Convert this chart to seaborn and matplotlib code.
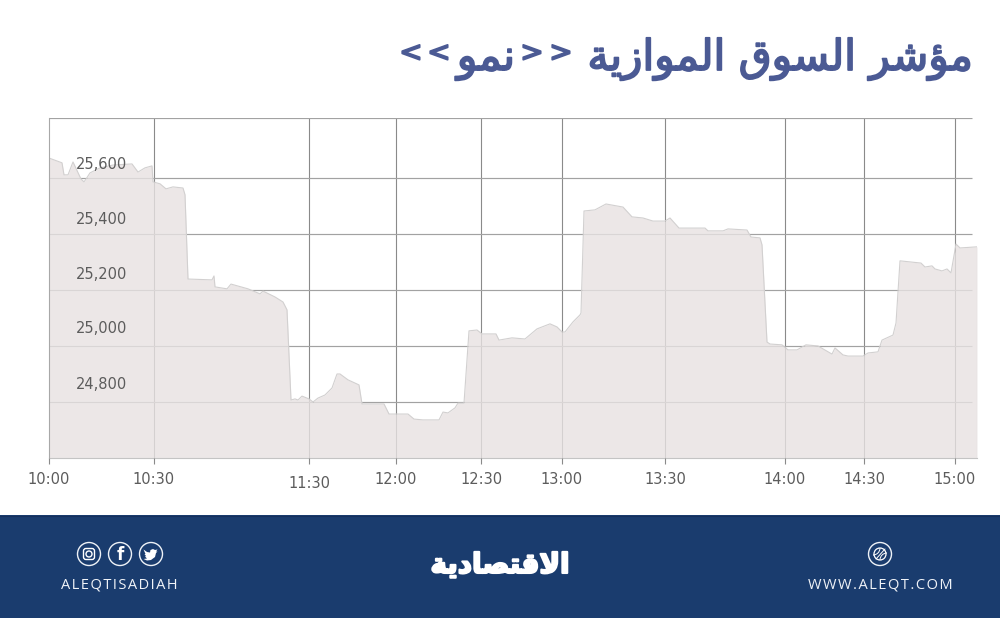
import numpy as np
import matplotlib
matplotlib.use('Agg')
import matplotlib.pyplot as plt
import matplotlib.patheffects as pe
from matplotlib.patches import Circle, FancyBboxPatch, Polygon, Arc, Rectangle
from matplotlib.transforms import ScaledTranslation
import seaborn as sns

# trade position along the session (the time axis is not linear)
trade_pos = [0, 13, 15, 19, 24, 32, 35, 37, 41, 51, 64, 83, 89, 96, 103, 104, 111, 117, 124, 134, 136,
             139, 163, 165, 166, 178, 182, 199, 211, 214, 226, 234, 238,
             242, 246, 249, 253, 260, 264, 269, 276, 283, 288, 291, 299, 310, 313, 335, 340, 359, 365,
             374, 390, 394, 399, 406, 409, 415, 420, 428, 433, 447, 450, 463, 476, 488, 501, 508, 513, 516, 524, 531,
             532, 535, 546, 557, 574, 583, 594, 604, 616, 621, 630, 656, 659, 674, 679, 698, 702, 711, 713, 718,
             721, 733, 739, 748, 757, 769, 783, 786, 794, 799, 814, 819, 829, 833, 844, 847, 851, 872, 876, 883, 886,
             893, 898, 902, 907, 911, 928]
index_vals = [25671, 25654, 25611, 25611, 25657, 25596, 25586, 25596, 25618, 25636, 25646, 25650, 25621, 25636, 25643, 25586, 25579, 25561, 25568, 25564, 25540,
              25239, 25236, 25250, 25211, 25204, 25221, 25204, 25186, 25196, 25175, 25157, 25129,
              24807, 24811, 24807, 24821, 24811, 24800, 24814, 24825, 24850, 24900, 24900, 24879, 24861, 24793, 24793, 24757, 24757, 24739,
              24736, 24736, 24764, 24761, 24779, 24796, 24796, 25054, 25057, 25043, 25043, 25021, 25029, 25025, 25061, 25079, 25068, 25050, 25050, 25086, 25111,
              25118, 25482, 25486, 25507, 25496, 25461, 25457, 25446, 25446, 25457, 25421, 25421, 25411, 25411, 25418, 25414, 25389, 25386, 25361, 25014,
              25007, 25004, 24986, 24986, 25004, 25000, 24971, 24993, 24968, 24964, 24964, 24975, 24979, 25021, 25039, 25082, 25304, 25296, 25282, 25286,
              25275, 25268, 25275, 25261, 25364, 25350, 25354]

time_ticks = [0, 105, 260, 347, 432, 513, 616, 736, 815, 906]
time_labels = ['10:00', '10:30', '11:30', '12:00', '12:30', '13:00', '13:30', '14:00', '14:30', '15:00']
value_ticks = [24800, 25000, 25200, 25400, 25600]
value_labels = ['24,800', '25,000', '25,200', '25,400', '25,600']

TITLE_COLOR = '#4b5a94'
BAND_COLOR = '#1a3c6e'
TICK_COLOR = '#5c5c5c'

sns.set_theme(style='white')
plt.rcParams['font.family'] = ['DejaVu Sans']

fig = plt.figure(figsize=(10, 6.18), dpi=100)
ax = fig.add_axes([0.049, 160 / 618, 0.928, 340 / 618])

# gridlines stay under the translucent area, tick labels above it
ax.set_axisbelow(False)
ax.vlines(time_ticks[1:], 24600, 25814, color='#8a8a8a', lw=0.8, zorder=1)
ax.hlines(value_ticks + [25814], 0, 923, color='#a2a2a2', lw=0.85, zorder=1)

ax.fill_between(trade_pos, index_vals, 24600, color='#e8e2e2', alpha=0.8, lw=0, zorder=2)
sns.lineplot(x=trade_pos, y=index_vals, color='#d2d0d0', lw=0.8, ax=ax, zorder=2.2)
ax.vlines(928, 24600, index_vals[-1], color='#d2d0d0', lw=0.8, zorder=2.2)

ax.set_xlim(0, 928)
ax.set_ylim(24600, 25814)
ax.set_xticks(time_ticks, time_labels)
ax.set_yticks(value_ticks, value_labels)
ax.tick_params(axis='x', length=4.5, width=0.8, color='#8a8a8a', labelsize=10.5, labelcolor=TICK_COLOR, pad=5.9, bottom=True)
ax.tick_params(axis='y', length=0, labelsize=10.5, labelcolor=TICK_COLOR, pad=-56)

# labels sit above their gridlines, 11:30 hangs a little lower
for lab, up in zip(ax.get_yticklabels(), [19, 19, 17, 16, 15]):
    lab.set_transform(lab.get_transform() + ScaledTranslation(0, up / 100, fig.dpi_scale_trans))
lab = ax.get_xticklabels()[2]
lab.set_transform(lab.get_transform() + ScaledTranslation(0, -4 / 100, fig.dpi_scale_trans))

for side in ['top', 'right']:
    ax.spines[side].set_visible(False)
ax.spines['left'].set_color('#a8a8a8')
ax.spines['left'].set_linewidth(0.8)
ax.spines['bottom'].set_color('#c4c4c4')
ax.spines['bottom'].set_linewidth(0.8)

# page furniture in pixel coordinates
deco = fig.add_axes([0, 0, 1, 1], zorder=-1)
deco.set_xlim(0, 1000)
deco.set_ylim(618, 0)
deco.axis('off')
deco.add_patch(Rectangle((0, 515), 1000, 103, color=BAND_COLOR, lw=0))
deco.plot([0, 1000], [515.5, 515.5], color='#16305c', lw=0.8)

# title goes in pieces, the chevrons are smaller than the words and spaced out
title = '\ufee3\ufe86\ufeb7\ufeae \ufe8d\ufedf\ufeb4\ufeee\ufed5 \ufe8d\ufedf\ufee4\ufeee\ufe8d\ufeaf\ufef3\ufe94'
growth = '\ufee7\ufee4\ufeee'
stroke = [pe.withStroke(linewidth=1.3, foreground=TITLE_COLOR)]
deco.text(973, 70, title[::-1], ha='right', va='baseline', color=TITLE_COLOR, fontsize=30.5, path_effects=stroke)
deco.text(486, 70, growth[::-1], ha='center', va='baseline', color=TITLE_COLOR, fontsize=30.5, path_effects=stroke)
for cx, mark in zip([411, 439, 532, 561], ['<', '<', '>', '>']):
    deco.text(cx, 53, mark, ha='center', va='center', color=TITLE_COLOR, fontsize=20, path_effects=stroke)

logo = '\ufe8d\ufefb\ufed7\ufe98\ufebc\ufe8e\ufea9\ufef3\ufe94'
deco.text(500, 565, logo[::-1], ha='center', va='center', color='white', fontsize=20, fontweight='bold',
          path_effects=[pe.withStroke(linewidth=1.5, foreground='white')])

hair = '\u200a'
deco.text(119, 585, hair.join('ALEQTISADIAH'), ha='center', va='center', color='#f0f3f8', fontsize=10.5,
          family=['Open Sans', 'DejaVu Sans'])
deco.text(880, 585, hair.join('WWW.ALEQT.COM'), ha='center', va='center', color='#f0f3f8', fontsize=10.5,
          family=['Open Sans', 'DejaVu Sans'])

for cx in [89, 120, 151, 880]:
    deco.add_patch(Circle((cx, 554), 11.5, fc='none', ec='#eef2f7', lw=1))

# instagram
deco.add_patch(FancyBboxPatch((83.5, 548.5), 11, 11, boxstyle='round,pad=0,rounding_size=2.5', fc='none', ec='white', lw=1))
deco.add_patch(Circle((89, 554), 3, fc='none', ec='white', lw=1))
# facebook
deco.text(120, 554.5, 'f', ha='center', va='center', color='white', fontsize=12, fontweight='bold')
# twitter
bird = [(143.5, 549.5), (147, 552), (150, 552.5), (150.5, 550), (153, 549), (155, 550), (157.5, 549.5), (156, 551.5), (157.5, 551.5),
        (156, 553), (155, 557), (151, 560), (147, 560.5), (143.5, 559), (147, 558.5), (145, 556.5), (146, 556), (144.5, 554), (145.5, 554)]
deco.add_patch(Polygon(bird, fc='white', ec='none'))
# dribbble
deco.add_patch(Circle((880, 554), 6, fc='none', ec='white', lw=0.9))
deco.add_patch(Arc((873, 548), 14, 14, theta1=0, theta2=90, ec='white', lw=0.7))
deco.add_patch(Arc((887, 560), 14, 14, theta1=180, theta2=270, ec='white', lw=0.7))
deco.plot([876, 885], [559, 549], color='white', lw=0.7)

fig.savefig('out.png', dpi=100, facecolor='white')
